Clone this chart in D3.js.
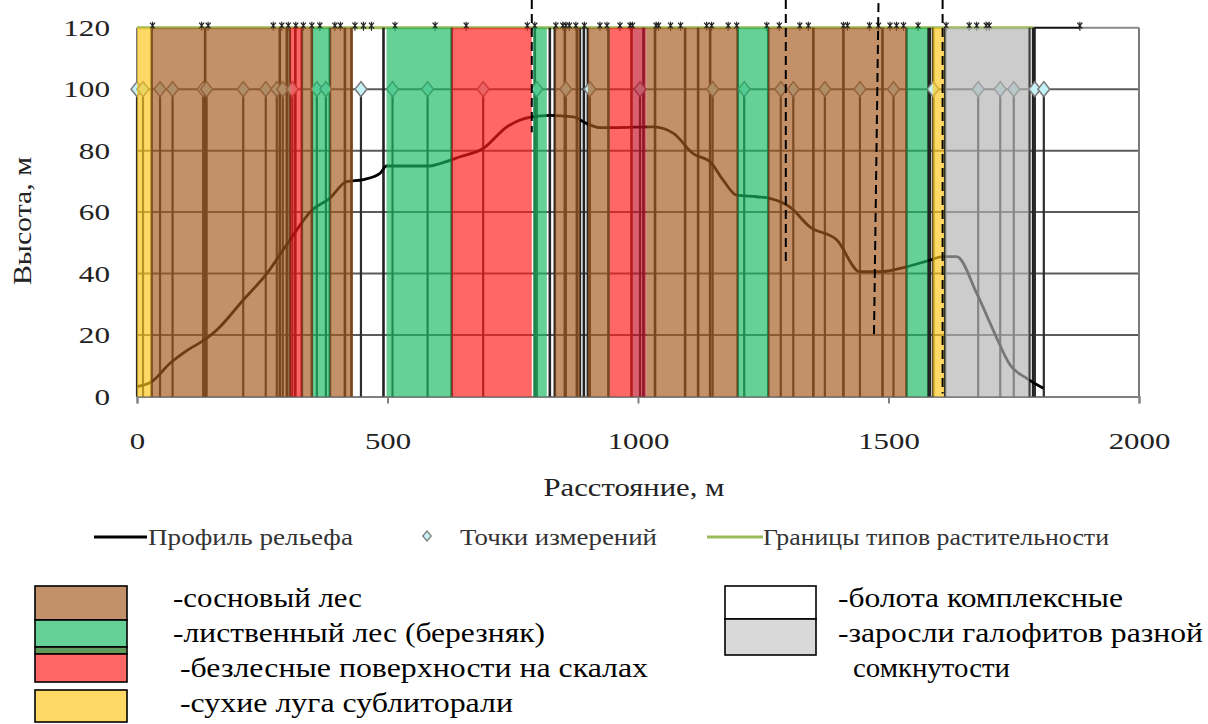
<!DOCTYPE html>
<html><head><meta charset="utf-8">
<script src="https://cdn.jsdelivr.net/npm/d3@7"></script>
<style>
body{margin:0;background:#fff}
</style>
</head><body>
<svg id="c" width="1208" height="724" style="font-family:'Liberation Serif'"></svg>
<script>
// ---------------- data ----------------
const xTicks = [0, 500, 1000, 1500, 2000];
const yTicks = [0, 20, 40, 60, 80, 100, 120];
const gridValues = [20, 40, 60, 80, 100];

// relief profile: [distance m, height m]
const profileX = [0,29,66,100,139,159,212,259,305,349,385,418,452,485,498,585,605,645,691,738,788,824,871,898,924,1031,1071,1110,1144,1170,1197,1237,1263,1303,1343,1397,1443,1483,1536,1583,1609,1636,1676,1709,1743,1776,1809];
const profileY = [3.2,4.8,10.8,15,18.9,21.6,31.4,40,50.9,60.6,64.5,69.9,70.6,72.6,75,75,75.8,78,80.7,87.7,91,91.5,91,88.8,87.5,87.7,85.6,79,76.4,70.4,65.5,65,64.5,61.7,55.2,50.9,40.6,40.6,42.2,44.4,45.5,45.5,33.6,21.6,10.2,5.9,2.7];

// measurement points (at height 100)
const measureX = [0,12,46,71,132,139,212,257,279,291,310,359,377,447,510,580,691,798,856,904,1004,1149,1212,1285,1310,1373,1443,1510,1589,1679,1723,1750,1792,1810];
const measureLevel = 100;

// vegetation type boundaries (full height lines)
const boundaryX = [29,136,285,299,305,316,329,349,385,415,428,492,628,794,824,834,854,878,884,892,900,941,987,1011,1034,1094,1120,1144,1199,1260,1350,1410,1488,1536,1581,1589,1613,1781,1790];
const boundaryTop = 120;
const boundaryEnd = 1790;
const extraTopEnd = 1882;

// small markers on the top boundary line
const topMarkX = [31,129,142,272,289,302,317,332,349,365,395,406,435,452,468,515,595,657,779,794,836,850,856,863,876,893,924,938,964,984,989,1036,1041,1065,1085,1137,1147,1180,1197,1257,1282,1323,1340,1410,1418,1462,1480,1503,1516,1530,1559,1615,1661,1676,1695,1701,1882];

// vegetation zones: start, end, type
const zoneStart = [0,29,306,329,351,385,498,628,791,834,900,944,990,1017,1199,1260,1536,1588,1613];
const zoneEnd   = [29,306,329,351,385,431,628,788,818,884,944,990,1017,1199,1260,1536,1578,1611,1781];
const zoneType  = ['луг','сосна','скалы','сосна','береза','сосна','береза','скалы','береза','сосна','сосна','скалы','скалы2','сосна','береза','сосна','береза','луг','галофиты'];

// dashed lines: x top, y top, x bottom, y bottom
const dashX1 = [788,1295,1480,1608];
const dashY1 = [129,129,128,129];
const dashX2 = [788,1295,1471,1608];
const dashY2 = [86,43.4,19.7,1];

const legendTop = ['Профиль рельефа','Точки измерений','Границы типов растительности'];
const legendLeft = ['-сосновый лес','-лиственный лес (березняк)','-безлесные поверхности на скалах','-сухие луга сублиторали'];
const legendRight = ['-болота комплексные','-заросли галофитов разной','сомкнутости'];

// ---------------- drawing ----------------
const FONT = 'Liberation Serif';
const overlay = {'сосна':'#a55a1e','береза':'#19b861','скалы':'#ff1919','скалы2':'#c61025','луг':'#ffc619','галофиты':'#b2b2b2'};
const svg = d3.select('#c');
const x = d3.scaleLinear().domain([0,2000]).range([137,1139]);
const y = d3.scaleLinear().domain([0,120]).range([396.5,27.7]);

// grid
svg.append('g').selectAll('line').data(gridValues).join('line')
  .attr('x1',x(0)).attr('x2',x(2000)).attr('y1',d=>y(d)).attr('y2',d=>y(d))
  .attr('stroke','#5c5c5c').attr('stroke-width',2);
// plot border
svg.append('line').attr('x1',x(2000)).attr('x2',x(2000)).attr('y1',y(0)).attr('y2',y(120)).attr('stroke','#7a7a7a').attr('stroke-width',2);
svg.append('line').attr('x1',x(extraTopEnd)).attr('x2',x(2000)).attr('y1',y(120)).attr('y2',y(120)).attr('stroke','#8a8a8a').attr('stroke-width',2);
svg.append('line').attr('x1',x(0)).attr('x2',x(0)).attr('y1',y(0)).attr('y2',y(120)).attr('stroke','#7a7a7a').attr('stroke-width',2);

// x axis
const gx = svg.append('g').attr('transform',`translate(0,${y(0)})`)
  .call(d3.axisBottom(x).tickValues(xTicks).tickSize(7).tickFormat(d3.format('d')));
gx.attr('font-family',FONT).attr('font-size',23);
gx.select('.domain').attr('stroke','#808080').attr('stroke-width',2);
gx.selectAll('.tick line').attr('stroke','#808080').attr('stroke-width',2);
gx.selectAll('.tick text').attr('y',52).attr('dy',0)
  .attr('font-family',FONT).attr('font-size',23).attr('fill','#222')
  .attr('textLength',d=>String(d).length*15.4).attr('lengthAdjust','spacingAndGlyphs');

// y axis labels
const gy = svg.append('g').attr('transform',`translate(${x(0)},0)`)
  .call(d3.axisLeft(y).tickValues(yTicks).tickSize(0).tickPadding(27));
gy.attr('font-family',FONT).attr('font-size',23);
gy.select('.domain').remove();
gy.selectAll('.tick text').attr('dy','0.33em')
  .attr('font-family',FONT).attr('font-size',23).attr('fill','#222')
  .attr('textLength',d=>String(d).length*15.6).attr('lengthAdjust','spacingAndGlyphs');

// top boundary line (green) and black extension
svg.append('line').attr('x1',x(0)).attr('x2',x(boundaryEnd)).attr('y1',y(120)).attr('y2',y(120))
  .attr('stroke','#9bbb59').attr('stroke-width',3);
svg.append('line').attr('x1',x(boundaryEnd)).attr('x2',x(extraTopEnd)).attr('y1',y(120)).attr('y2',y(120))
  .attr('stroke','#111').attr('stroke-width',2);

// top markers
svg.append('g').selectAll('path').data(topMarkX).join('path')
  .attr('transform',d=>`translate(${x(d)},${y(120)-2})`)
  .attr('d','M-2.5,-3L2.5,3M2.5,-3L-2.5,3M0,-4V5')
  .attr('stroke','#222').attr('stroke-width',1.2).attr('fill','none');

// boundary lines
svg.append('g').selectAll('line').data(boundaryX).join('line')
  .attr('x1',d=>x(d)).attr('x2',d=>x(d)).attr('y1',y(0)).attr('y2',y(boundaryTop))
  .attr('stroke','#222').attr('stroke-width',d=>(d===boundaryEnd||d===1581)?4:2.6);

// measurement lines
svg.append('g').selectAll('line').data(measureX).join('line')
  .attr('x1',d=>x(d)).attr('x2',d=>x(d)).attr('y1',y(0)).attr('y2',y(measureLevel))
  .attr('stroke','#2e2e2e').attr('stroke-width',2.2);

// profile
const pts = profileX.map((d,i)=>[d,profileY[i]]);
svg.append('path').datum(pts)
  .attr('d',d3.line().x(d=>x(d[0])).y(d=>y(d[1])).curve(d3.curveMonotoneX))
  .attr('fill','none').attr('stroke','#000').attr('stroke-width',2.8);

// measurement diamonds
svg.append('g').selectAll('path').data(measureX).join('path')
  .attr('transform',d=>`translate(${x(d)},${y(measureLevel)}) scale(1,1.25)`)
  .attr('d',d3.symbol(d3.symbolDiamond2,90))
  .attr('fill','#c4f2f6').attr('stroke','#7a7a7a').attr('stroke-width',1.4);

// zones overlay
svg.append('g').selectAll('rect').data(zoneStart).join('rect')
  .attr('x',d=>x(d)).attr('width',(d,i)=>x(zoneEnd[i])-x(d))
  .attr('y',y(120)).attr('height',y(0)-y(120))
  .attr('fill',(d,i)=>overlay[zoneType[i]]).attr('fill-opacity',0.667);

// dashed lines
svg.append('g').selectAll('line').data(dashX1).join('line')
  .attr('x1',d=>x(d)).attr('y1',(d,i)=>y(dashY1[i]))
  .attr('x2',(d,i)=>x(dashX2[i])).attr('y2',(d,i)=>y(dashY2[i]))
  .attr('stroke','#000').attr('stroke-width',2).attr('stroke-dasharray','9,5');

// axis titles
svg.append('text').attr('x',634).attr('y',496).attr('text-anchor','middle')
  .attr('font-family',FONT).attr('font-size',26).attr('fill','#222')
  .attr('textLength',181).attr('lengthAdjust','spacingAndGlyphs')
  .text('Расстояние, м');
svg.append('text').attr('transform','translate(31,221) rotate(-90)').attr('text-anchor','middle')
  .attr('font-family',FONT).attr('font-size',26).attr('fill','#222')
  .attr('textLength',128).attr('lengthAdjust','spacingAndGlyphs')
  .text('Высота, м');

// top legend
svg.append('line').attr('x1',94).attr('x2',147).attr('y1',537).attr('y2',537).attr('stroke','#000').attr('stroke-width',3);
svg.append('path').attr('transform','translate(427,536) scale(1,1.2)').attr('d',d3.symbol(d3.symbolDiamond2,45))
  .attr('fill','#c4f2f6').attr('stroke','#7a7a7a').attr('stroke-width',1.2);
svg.append('line').attr('x1',707).attr('x2',763).attr('y1',537).attr('y2',537).attr('stroke','#9bbb59').attr('stroke-width',3);
const ltX = [148, 460, 763], ltW = [205, 197, 346];
svg.append('g').selectAll('text').data(legendTop).join('text')
  .attr('x',(d,i)=>ltX[i]).attr('y',545)
  .attr('font-family',FONT).attr('font-size',23).attr('fill','#333')
  .attr('textLength',(d,i)=>ltW[i]).attr('lengthAdjust','spacingAndGlyphs').text(d=>d);

// lower legend boxes
const boxes = [
  [35,586,92,34,'#c39169'],[35,620,92,27,'#66d096'],[35,647,92,7,'#5f9a5c'],
  [35,654,92,28,'#ff6666'],[35,690,92,32,'#ffd966'],
  [725,586,91,33,'#ffffff'],[725,619,91,36,'#d9d9d9']];
svg.append('g').selectAll('rect').data(boxes).join('rect')
  .attr('x',d=>d[0]).attr('y',d=>d[1]).attr('width',d=>d[2]).attr('height',d=>d[3])
  .attr('fill',d=>d[4]).attr('stroke','#000').attr('stroke-width',1.6);
const llX=[173,173,180,180], llY=[607,642,677,712], llW=[189,372,468,333];
svg.append('g').selectAll('text').data(legendLeft).join('text')
  .attr('x',(d,i)=>llX[i]).attr('y',(d,i)=>llY[i])
  .attr('font-family',FONT).attr('font-size',27).attr('fill','#000')
  .attr('textLength',(d,i)=>llW[i]).attr('lengthAdjust','spacingAndGlyphs').text(d=>d);
const lrX=[838,838,853], lrY=[607,642,677], lrW=[285,365,157];
svg.append('g').selectAll('text').data(legendRight).join('text')
  .attr('x',(d,i)=>lrX[i]).attr('y',(d,i)=>lrY[i])
  .attr('font-family',FONT).attr('font-size',27).attr('fill','#000')
  .attr('textLength',(d,i)=>lrW[i]).attr('lengthAdjust','spacingAndGlyphs').text(d=>d);
</script>
</body></html>
